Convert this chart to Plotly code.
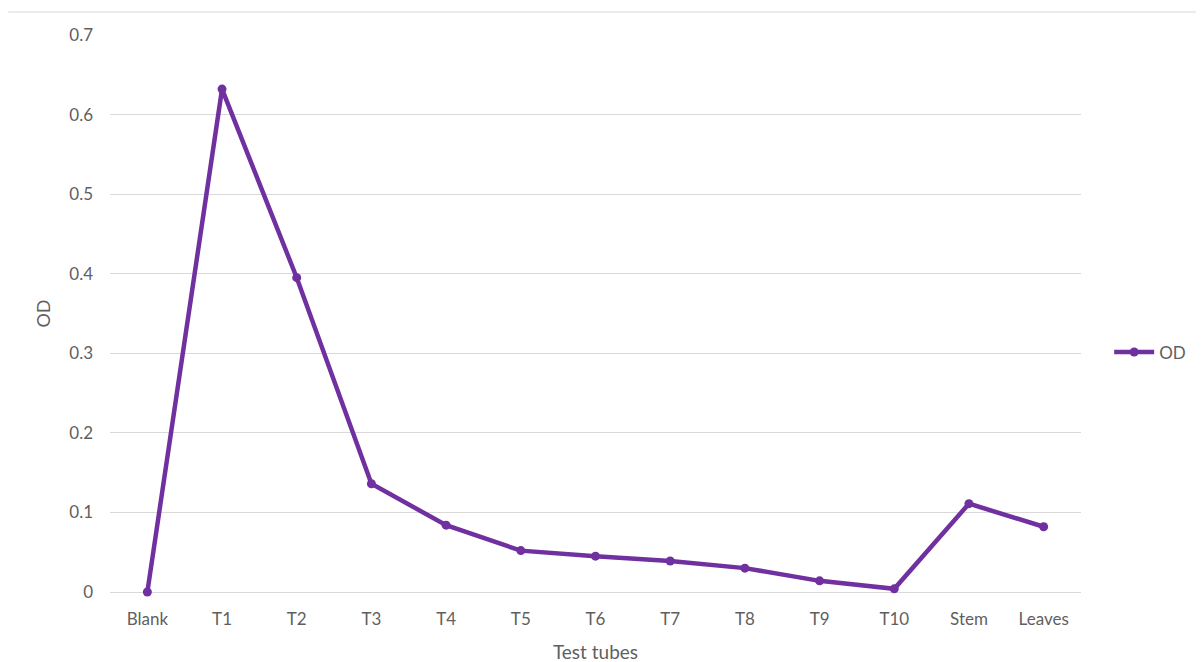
import plotly.graph_objects as go

categories = ["Blank", "T1", "T2", "T3", "T4", "T5", "T6", "T7", "T8", "T9", "T10", "Stem", "Leaves"]
od_values = [0.0, 0.632, 0.395, 0.136, 0.084, 0.052, 0.045, 0.039, 0.030, 0.014, 0.004, 0.111, 0.082]
y_ticks = [0, 0.1, 0.2, 0.3, 0.4, 0.5, 0.6, 0.7]
y_ticklabels = ["0", "0.1", "0.2", "0.3", "0.4", "0.5", "0.6", "0.7"]

purple = "#7030A0"
grey_text = "#5f5f5f"
font_family = "Lato, Open Sans, sans-serif"

fig = go.Figure()
fig.add_trace(go.Scatter(
    x=categories, y=od_values, mode="lines+markers", name="OD",
    line=dict(color=purple, width=4.5),
    marker=dict(color=purple, size=9),
    cliponaxis=False,
))

fig.update_layout(
    width=1204, height=662,
    margin=dict(l=102, r=131, t=27, b=78),
    paper_bgcolor="white", plot_bgcolor="white",
    font=dict(family=font_family, size=17, color=grey_text),
    showlegend=True,
    legend=dict(x=1.029, y=0.43, xanchor="left", yanchor="middle",
                font=dict(size=17, color=grey_text), itemwidth=40),
    xaxis=dict(
        type="category", categoryorder="array", categoryarray=categories,
        range=[-0.5, 12.5], showgrid=False, showline=False, zeroline=False,
        ticks="", ticklabelstandoff=15, tickfont=dict(size=17, color=grey_text),
        title=dict(text="Test tubes", font=dict(size=19, color=grey_text), standoff=17),
    ),
    yaxis=dict(
        range=[0, 0.7], tickvals=y_ticks, ticktext=y_ticklabels,
        showgrid=True, gridcolor="#d9d9d9", gridwidth=1,
        zeroline=True, zerolinecolor="#d9d9d9", zerolinewidth=1,
        showline=False, ticks="", ticklabelstandoff=16,
        tickfont=dict(size=17, color=grey_text),
        title=dict(text="OD", font=dict(size=18, color=grey_text), standoff=13),
    ),
    shapes=[dict(type="line", xref="paper", yref="paper",
                 x0=-0.105, x1=1.14, y0=1.0413, y1=1.0413,
                 line=dict(color="#d9d9d9", width=1))],
)

fig.write_html("out.html")
